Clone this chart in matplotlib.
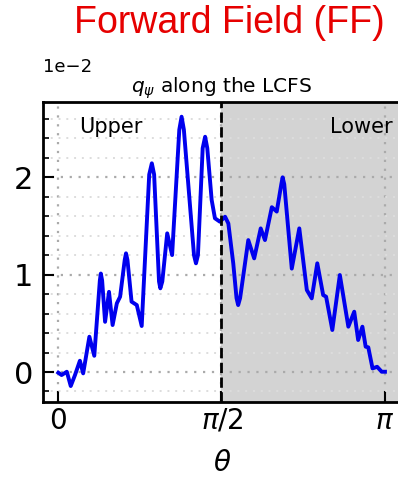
import matplotlib
matplotlib.use("Agg")
import matplotlib.pyplot as plt
import numpy as np

# theta in units of pi, q_psi in units of 1e-2
theta_frac = [0.001, 0.011, 0.027, 0.039, 0.052, 0.067, 0.077, 0.096, 0.111, 0.128,
              0.131, 0.135, 0.144, 0.156, 0.167, 0.180, 0.190, 0.204, 0.208, 0.2125,
              0.225, 0.241, 0.256, 0.279, 0.287, 0.294, 0.309, 0.313, 0.319, 0.334,
              0.349, 0.371, 0.378, 0.385, 0.416, 0.422, 0.428, 0.4425, 0.450, 0.4566,
              0.470, 0.480, 0.495, 0.511, 0.521, 0.536, 0.546, 0.551, 0.557, 0.582,
              0.600, 0.620, 0.633, 0.654, 0.669, 0.683, 0.687, 0.692, 0.715, 0.738,
              0.761, 0.776, 0.793, 0.811, 0.820, 0.839, 0.862, 0.888, 0.906, 0.918,
              0.931, 0.941, 0.949, 0.962, 0.976, 0.990, 1.000]
q_psi = [-0.007, -0.031, 0.003, -0.144, -0.031, 0.116, -0.014, 0.363, 0.167, 0.94,
         1.012, 0.94, 0.516, 0.824, 0.483, 0.706, 0.774, 1.15, 1.220, 1.15,
         0.723, 0.688, 0.473, 2.03, 2.145, 2.03, 0.93, 0.860, 0.93, 1.425,
         1.202, 2.49, 2.624, 2.49, 1.20, 1.117, 1.20, 2.30, 2.418, 2.30,
         1.768, 1.580, 1.545, 1.596, 1.527, 1.117, 0.76, 0.688, 0.76, 1.356,
         1.168, 1.476, 1.356, 1.694, 1.649, 1.93, 2.001, 1.93, 1.063, 1.476,
         0.843, 0.757, 1.117, 0.791, 0.774, 0.432, 0.997, 0.466, 0.620, 0.329,
         0.466, 0.260, 0.254, 0.037, 0.054, 0.003, 0.003]
xtick_vals = [0, 0.5, 1.0]
xtick_labels = ["0", r"$\pi/2$", r"$\pi$"]
ytick_vals = [0, 1, 2]

theta = np.array(theta_frac) * np.pi

fig = plt.figure(figsize=(3.98, 4.8), dpi=100)
ax = fig.add_axes([0.108, 0.1625, 0.8995, 0.624])

ax.axvspan(np.pi / 2, 1.2 * np.pi, color="#d3d3d3", zorder=0)
ax.plot(theta, q_psi, color="#0000ee", lw=2.8, zorder=3)
ax.axvline(np.pi / 2, color="black", ls="--", lw=2.0, zorder=4)

ax.set_xlim(-0.0459 * np.pi, 1.049 * np.pi)
ax.set_ylim(-0.308, 2.77)
ax.set_xticks(np.array(xtick_vals) * np.pi)
ax.set_xticklabels(xtick_labels, fontsize=20)
ax.set_yticks(ytick_vals)
ax.set_yticks(np.arange(-0.2, 2.75, 0.2), minor=True)
ax.tick_params(axis="y", labelsize=22, pad=7)
ax.tick_params(which="major", direction="in", length=8, width=1.5)
ax.tick_params(which="minor", direction="in", length=4, width=1.2)
ax.grid(which="major", ls=(0, (1, 3)), lw=1.6, color="#aaaaaa")
ax.grid(which="minor", axis="y", ls=(0, (1, 3)), lw=1.4, color="#dddddd")
ax.set_axisbelow(True)
for s in ax.spines.values():
    s.set_linewidth(2)
ax.spines["right"].set_visible(False)

ax.set_xlabel(r"$\theta$", fontsize=20, labelpad=10)
ax.set_title(r"$q_\psi$ along the LCFS", fontsize=14.5, pad=7)
ax.text(0.1, 0.898, "Upper", transform=ax.transAxes, fontsize=15)
ax.text(0.978, 0.898, "Lower", transform=ax.transAxes, fontsize=15, ha="right")
fig.text(43 / 398, 1 - 72 / 480, "1e\u22122", fontsize=13)

fig.text(385 / 398, 1 - 33 / 480, "Forward Field (FF)", color="#e60000",
         fontsize=27, family="Liberation Sans", ha="right", va="baseline")

fig.savefig("out.png", dpi=100)
